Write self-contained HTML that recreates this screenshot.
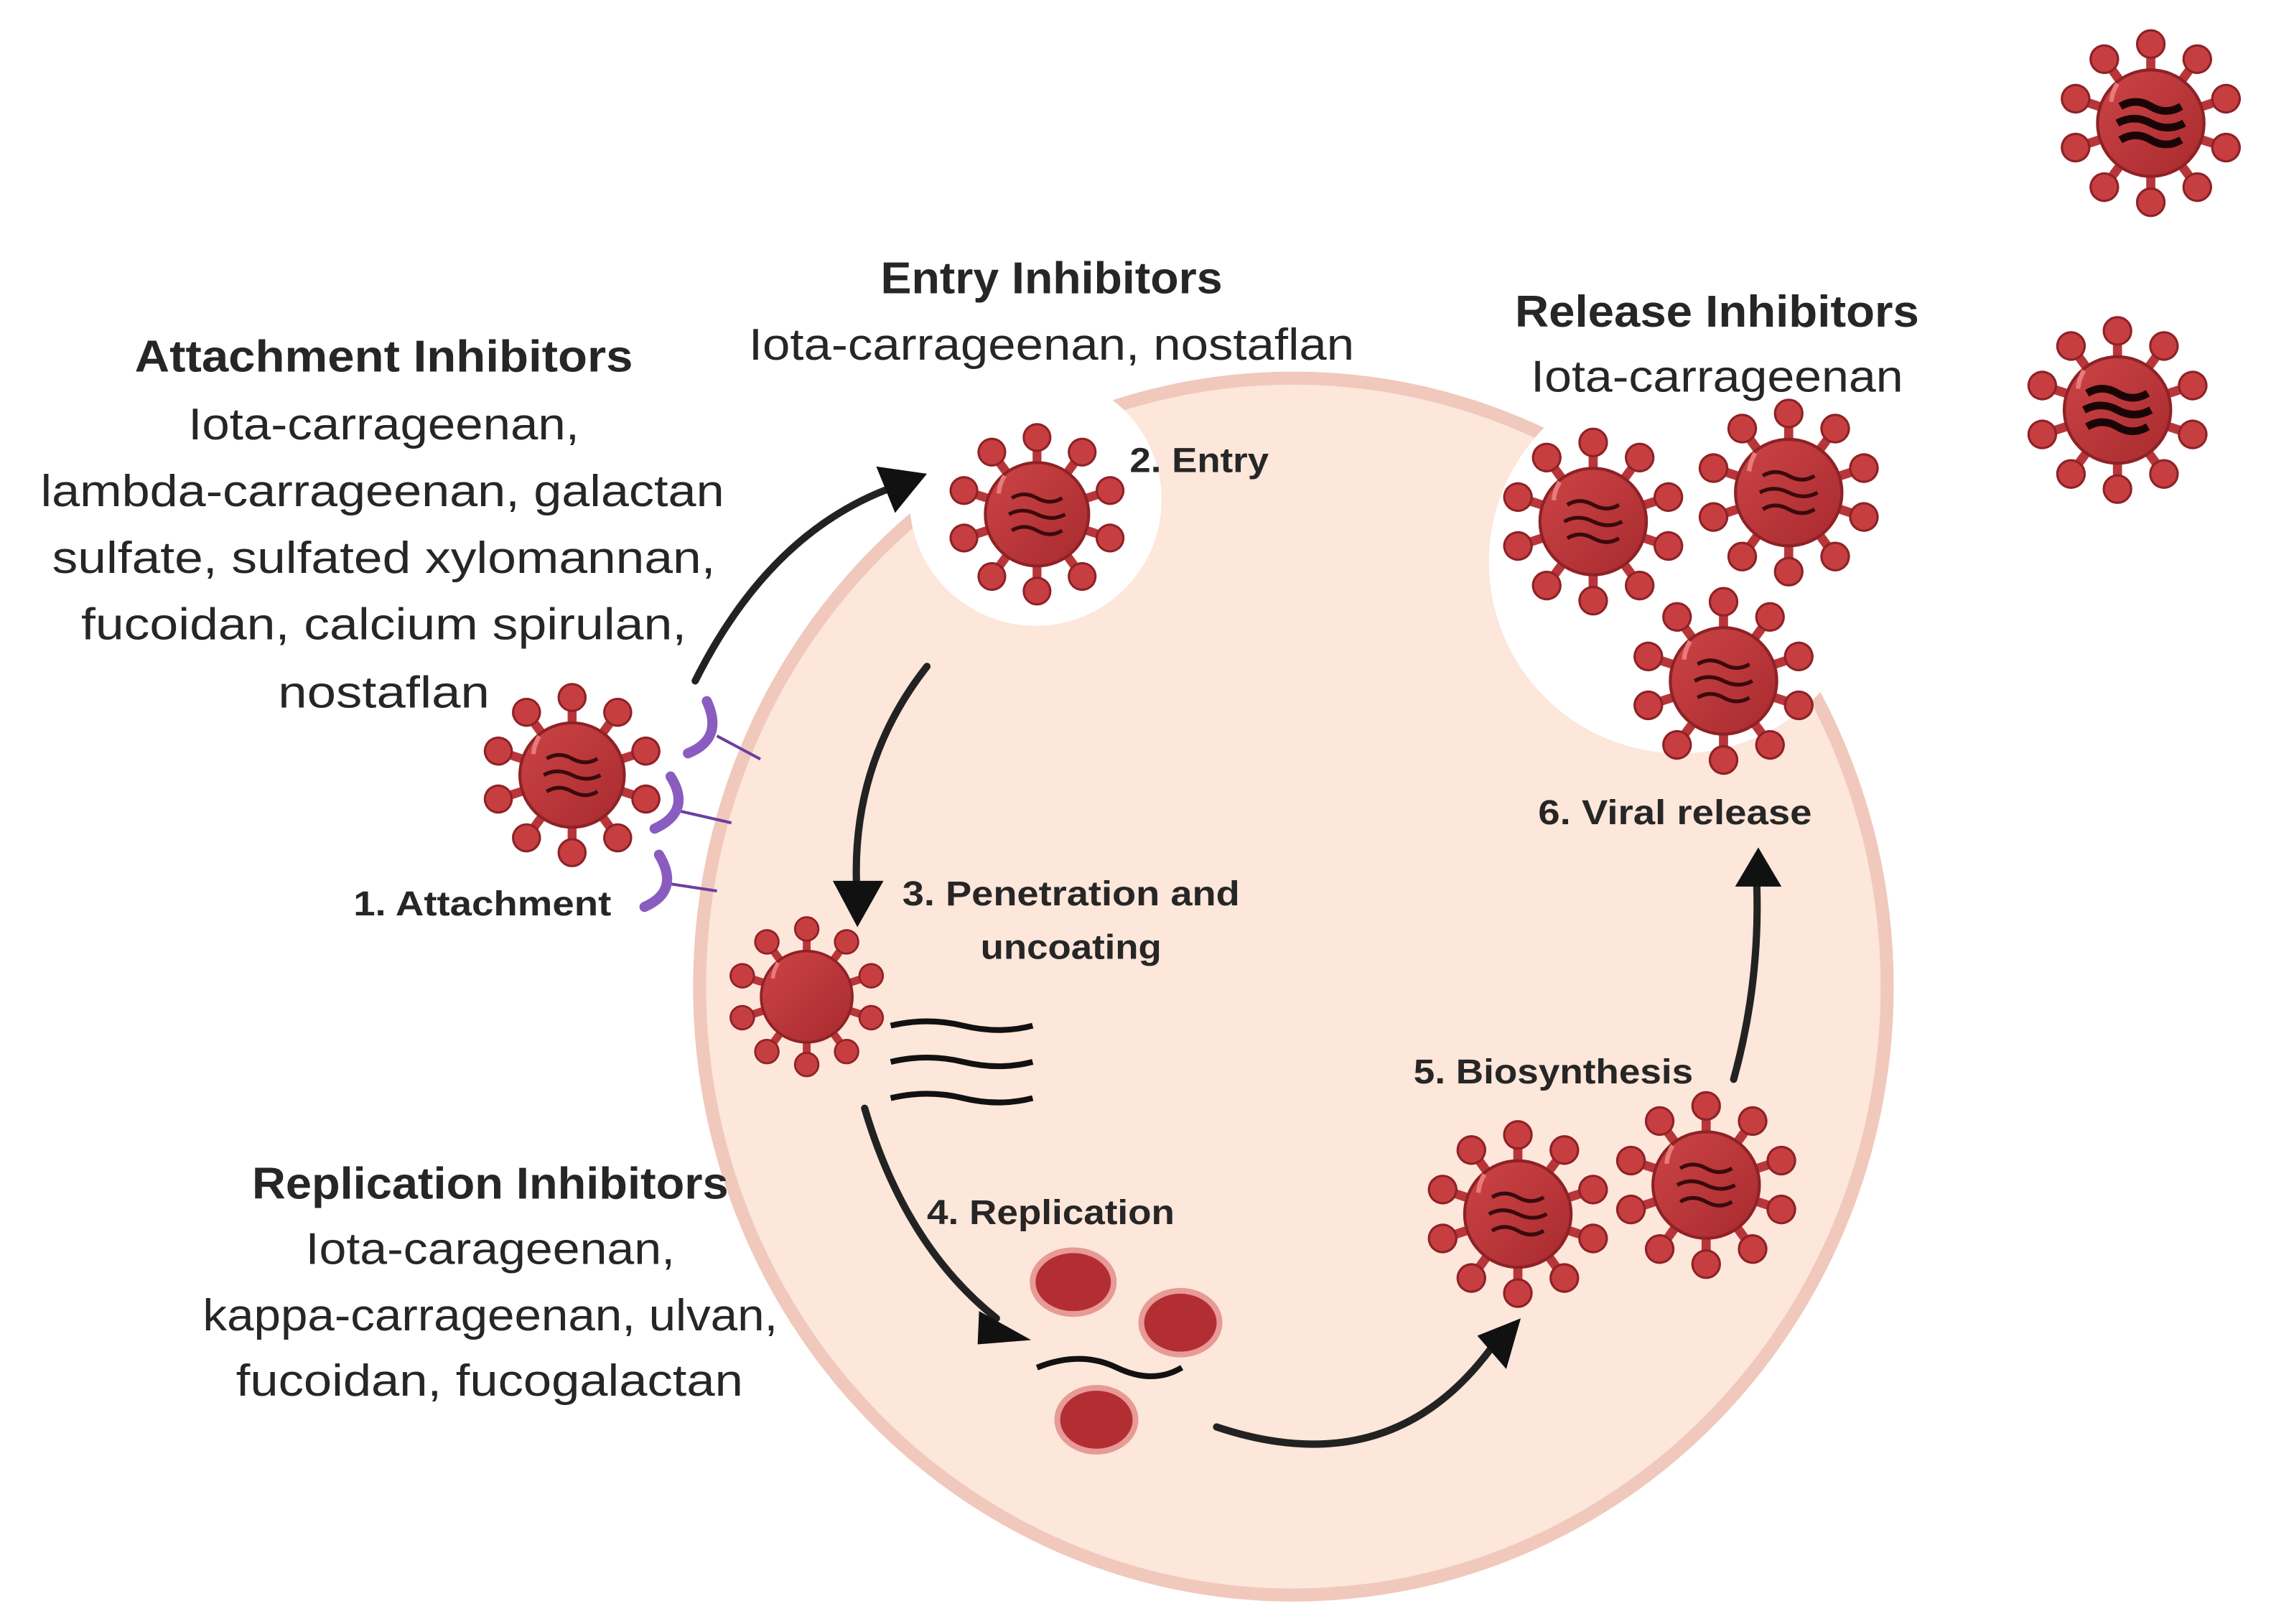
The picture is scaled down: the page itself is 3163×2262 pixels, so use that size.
<!DOCTYPE html>
<html><head><meta charset="utf-8"><style>html,body{margin:0;padding:0;background:#fff}svg{display:block}</style></head>
<body>
<svg width="3163" height="2262" viewBox="0 0 1568 1121" preserveAspectRatio="none" xmlns="http://www.w3.org/2000/svg" font-family="Liberation Sans, sans-serif">
<defs>
<linearGradient id="bodyg" x1="0" y1="0" x2="1" y2="1"><stop offset="0" stop-color="#cc4446"/><stop offset="1" stop-color="#a82a2e"/></linearGradient>
<g id="spk">
<line x1="0" y1="-30" x2="0" y2="-46" stroke="#b8363a" stroke-width="6"/>
<circle cx="0" cy="-52" r="9" fill="#c73e41" stroke="#8e2226" stroke-width="1.5"/>
</g>
<g id="vcore">
<use href="#spk" transform="rotate(0)"/><use href="#spk" transform="rotate(36)"/><use href="#spk" transform="rotate(72)"/><use href="#spk" transform="rotate(108)"/><use href="#spk" transform="rotate(144)"/><use href="#spk" transform="rotate(180)"/><use href="#spk" transform="rotate(216)"/><use href="#spk" transform="rotate(252)"/><use href="#spk" transform="rotate(288)"/><use href="#spk" transform="rotate(324)"/>
<circle r="35" fill="url(#bodyg)" stroke="#8e2226" stroke-width="2"/>
<path d="M-26,-14 a28,28 0 0 1 4,-12" stroke="#e87a7a" stroke-width="3" fill="none"/>
</g>
<g id="v">
<use href="#vcore"/>
<path d="M-17,-11 q8,-5 17,0 t17,0 M-19,0 q9,-5 19,0 t19,0 M-17,11 q8,-5 17,0 t17,0" stroke="#3a0a0c" stroke-width="2.5" fill="none"/>
</g>
<g id="vd">
<use href="#vcore"/>
<path d="M-20,-11 q10,-6 20,0 t20,0 M-22,0 q11,-6 22,0 t22,0 M-20,11 q10,-6 20,0 t20,0" stroke="#1a0506" stroke-width="5" fill="none"/>
</g>
</defs>

<ellipse cx="893" cy="681" rx="410" ry="420" fill="#fde6da" stroke="#f1c8bc" stroke-width="9"/>
<circle cx="715" cy="345" r="87" fill="#fff"/>
<circle cx="1160" cy="388" r="132" fill="#fff"/>

<g fill="none" stroke-width="5" stroke-linecap="round">
<path d="M480,470 Q530,370 612,338" stroke="#222"/>
<path d="M640,460 Q585,530 592,622" stroke="#222"/>
<path d="M597,765 Q625,860 688,910" stroke="#222"/>
<path d="M840,985 Q960,1025 1030,930" stroke="#222"/>
<path d="M1197,745 Q1215,680 1213,612" stroke="#222"/>
</g>
<path d="M640,327 L605,322 L618,354 z" fill="#111"/>
<path d="M575,608 L610,608 L592,640 z" fill="#111"/>
<path d="M676,905 L712,925 L675,928 z" fill="#111"/>
<path d="M1020,922 L1050,910 L1040,945 z" fill="#111"/>
<path d="M1198,612 L1230,612 L1214,585 z" fill="#111"/>

<g stroke="#6a3fa0" stroke-width="2" fill="none">
<line x1="495" y1="508" x2="525" y2="524"/><line x1="470" y1="560" x2="505" y2="568"/><line x1="462" y1="610" x2="495" y2="615"/>
</g>
<g stroke="#8a5cc0" stroke-width="7" fill="none" stroke-linecap="round">
<path d="M488,484 Q500,510 475,520"/><path d="M463,536 Q478,560 452,572"/><path d="M455,590 Q470,615 445,626"/>
</g>

<use href="#v" transform="translate(395,535) scale(1.03)"/>
<use href="#v" transform="translate(716,355) scale(1.02)"/>
<use href="#v" transform="translate(1100,360) scale(1.05)"/>
<use href="#v" transform="translate(1235,340) scale(1.05)"/>
<use href="#v" transform="translate(1190,470) scale(1.05)"/>
<use href="#vd" transform="translate(1485,85) scale(1.05)"/>
<use href="#vd" transform="translate(1462,283) scale(1.05)"/>
<use href="#vcore" transform="translate(557,688) scale(0.9)"/>
<use href="#v" transform="translate(1048,838) scale(1.05)"/>
<use href="#v" transform="translate(1178,818) scale(1.05)"/>

<path d="M615,708 q25,-6 50,0 t48,0 M615,733 q25,-6 50,0 t48,0 M615,758 q25,-6 50,0 t48,0" stroke="#111" stroke-width="4" fill="none"/>
<g fill="#b32e33" stroke="#e79a96" stroke-width="4">
<ellipse cx="741" cy="885" rx="28" ry="22"/><ellipse cx="815" cy="913" rx="27" ry="22"/><ellipse cx="757" cy="980" rx="27" ry="22"/>
</g>
<path d="M716,944 q30,-12 55,0 t45,0" stroke="#111" stroke-width="4" fill="none"/>

<g fill="#262626" text-anchor="start" dominant-baseline="central" font-size="31">
<text x="93" y="246" font-weight="bold" textLength="344" lengthAdjust="spacingAndGlyphs">Attachment Inhibitors</text>
<text x="130" y="293" textLength="270" lengthAdjust="spacingAndGlyphs">Iota-carrageenan,</text>
<text x="28" y="339" textLength="472" lengthAdjust="spacingAndGlyphs">lambda-carrageenan, galactan</text>
<text x="36" y="385" textLength="458" lengthAdjust="spacingAndGlyphs">sulfate, sulfated xylomannan,</text>
<text x="56" y="431" textLength="418" lengthAdjust="spacingAndGlyphs">fucoidan, calcium spirulan,</text>
<text x="192" y="478" textLength="146" lengthAdjust="spacingAndGlyphs">nostaflan</text>
<text x="608" y="192" font-weight="bold" textLength="236" lengthAdjust="spacingAndGlyphs">Entry Inhibitors</text>
<text x="517" y="238" textLength="418" lengthAdjust="spacingAndGlyphs">Iota-carrageenan, nostaflan</text>
<text x="1046" y="215" font-weight="bold" textLength="279" lengthAdjust="spacingAndGlyphs">Release Inhibitors</text>
<text x="1057" y="260" textLength="257" lengthAdjust="spacingAndGlyphs">Iota-carrageenan</text>
<text x="174" y="817" font-weight="bold" textLength="329" lengthAdjust="spacingAndGlyphs">Replication Inhibitors</text>
<text x="211" y="862" textLength="255" lengthAdjust="spacingAndGlyphs">Iota-carageenan,</text>
<text x="140" y="908" textLength="397" lengthAdjust="spacingAndGlyphs">kappa-carrageenan, ulvan,</text>
<text x="163" y="953" textLength="350" lengthAdjust="spacingAndGlyphs">fucoidan, fucogalactan</text>
</g>
<g fill="#262626" font-weight="bold" dominant-baseline="central" font-size="24">
<text x="780" y="318" textLength="96" lengthAdjust="spacingAndGlyphs">2. Entry</text>
<text x="244" y="624" textLength="178" lengthAdjust="spacingAndGlyphs">1. Attachment</text>
<text x="623" y="617" textLength="233" lengthAdjust="spacingAndGlyphs">3. Penetration and</text>
<text x="677" y="654" textLength="125" lengthAdjust="spacingAndGlyphs">uncoating</text>
<text x="640" y="837" textLength="171" lengthAdjust="spacingAndGlyphs">4. Replication</text>
<text x="976" y="740" textLength="193" lengthAdjust="spacingAndGlyphs">5. Biosynthesis</text>
<text x="1062" y="561" textLength="189" lengthAdjust="spacingAndGlyphs">6. Viral release</text>
</g>
</svg>
</body></html>
